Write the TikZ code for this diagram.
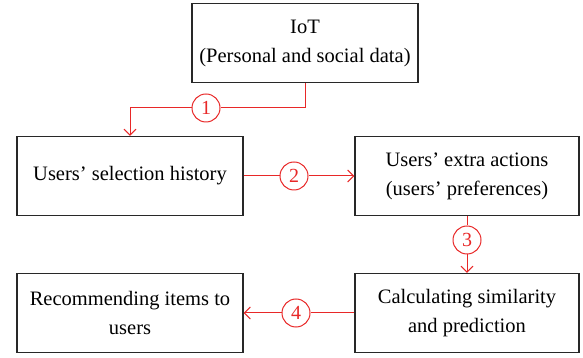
\documentclass[tikz,border=0pt]{standalone}
\usepackage{fontspec}
\setmainfont{Liberation Serif}
\usetikzlibrary{arrows.meta}
\definecolor{linered}{RGB}{232,40,40}
\definecolor{boxline}{RGB}{40,40,40}
\tikzset{
  box/.style={draw=boxline, line width=1.3pt, rectangle, minimum width=226pt, minimum height=79pt, align=center, font=\fontsize{20.5}{29}\selectfont, inner sep=2pt},
  num/.style={draw=linered, line width=1pt, circle, minimum size=28pt, inner sep=0pt, text=linered, font=\fontsize{20}{20}\selectfont},
  conn/.style={draw=linered, line width=1pt},
  arr/.style={conn, -{Straight Barb[length=6pt,width=12pt,line width=1pt]}},
}
\begin{document}
\begin{tikzpicture}[x=1pt,y=1pt]
\useasboundingbox (0,0) rectangle (583,358);
\node[box] (iot) at (305,315) {IoT\\(Personal and social data)};
\node[box] (hist) at (130,182) {Users’ selection history};
\node[box, minimum width=224pt] (extra) at (467,182) {Users’ extra actions\\(users’ preferences)};
\node[box] (rec) at (130,45) {Recommending items to\\users};
\node[box, minimum width=224pt] (calc) at (467,45) {Calculating similarity\\and prediction};
\node[num] (c1) at (206,250) {1};
\node[num] (c2) at (294,182) {2};
\node[num] (c3) at (467,118) {3};
\node[num] (c4) at (296,45) {4};
\draw[conn] (iot.south) |- (c1);
\draw[arr] (c1) -| (hist.north);
\draw[conn] (hist.east) -- (c2);
\draw[arr] (c2) -- (extra.west);
\draw[conn] (extra.south) -- (c3);
\draw[arr] (c3) -- (calc.north);
\draw[conn] (calc.west) -- (c4);
\draw[arr] (c4) -- (rec.east);
\end{tikzpicture}
\end{document}
